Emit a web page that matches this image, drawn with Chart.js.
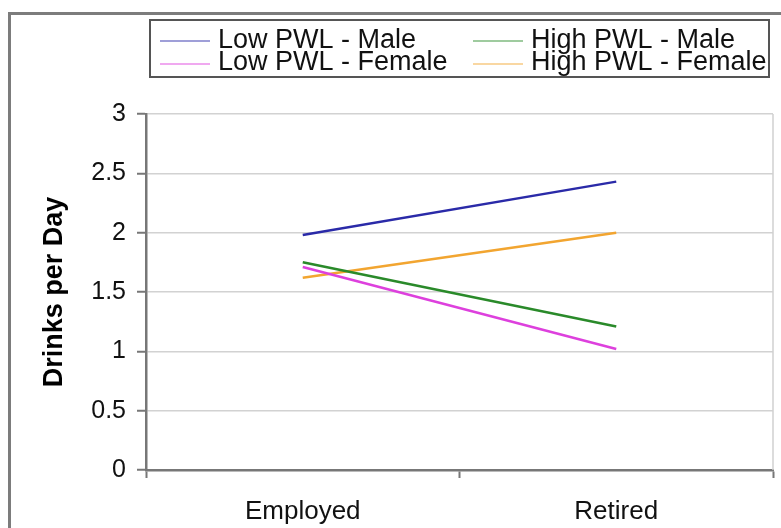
<!DOCTYPE html>
<html>
<head>
<meta charset="utf-8">
<title>Drinks per Day by Employment Status</title>
<script src="https://cdn.jsdelivr.net/npm/chart.js@4/dist/chart.umd.min.js"></script>
<style>
  html, body { margin: 0; padding: 0; background: #ffffff; }
  #wrap { position: relative; width: 781px; height: 528px; }
  canvas { display: block; }
</style>
</head>
<body>
<div id="wrap"><canvas id="chart" width="781" height="528"></canvas></div>
<script>
// Employment status groups on the x axis
const categories = ['Employed', 'Retired'];

// Mean drinks per day for each PWL / gender group
const lowPwlMale = [1.98, 2.43];
const highPwlMale = [1.75, 1.21];
const lowPwlFemale = [1.71, 1.02];
const highPwlFemale = [1.62, 2.00];

// Y axis tick values
const yTicks = [0, 0.5, 1, 1.5, 2, 2.5, 3];

const seriesLabels = ['Low PWL - Male', 'High PWL - Male', 'Low PWL - Female', 'High PWL - Female'];
const seriesColors = ['#2a2aa8', '#2a8a2a', '#dd40dd', '#f2a530'];
const seriesValues = [lowPwlMale, highPwlMale, lowPwlFemale, highPwlFemale];

const FONT = '"Liberation Sans", Arial, Helvetica, sans-serif';
const AXIS_GRAY = '#777777';

// Outer frame around the whole figure
const framePlugin = {
  id: 'frame',
  beforeDraw(chart) {
    const ctx = chart.ctx;
    ctx.save();
    ctx.fillStyle = '#ffffff';
    ctx.fillRect(0, 0, chart.width, chart.height);
    ctx.strokeStyle = '#7c7c7c';
    ctx.lineWidth = 3;
    ctx.beginPath();
    ctx.moveTo(9.5, chart.height + 2);
    ctx.lineTo(9.5, 13.5);
    ctx.lineTo(chart.width + 2, 13.5);
    ctx.stroke();
    ctx.restore();
  }
};

// Light border on the right edge of the plotting area
const plotEdgePlugin = {
  id: 'plotEdge',
  beforeDatasetsDraw(chart) {
    const {ctx, chartArea} = chart;
    ctx.save();
    ctx.strokeStyle = '#d0d0d0';
    ctx.lineWidth = 1.5;
    ctx.beginPath();
    ctx.moveTo(chartArea.right, chartArea.top);
    ctx.lineTo(chartArea.right, chartArea.bottom);
    ctx.stroke();
    ctx.restore();
  }
};

// Two-column boxed legend above the plot
const boxLegendPlugin = {
  id: 'boxLegend',
  afterDraw(chart, args, opts) {
    const ctx = chart.ctx;
    const b = opts.box;
    ctx.save();
    ctx.strokeStyle = '#555555';
    ctx.lineWidth = 2;
    ctx.strokeRect(b.x, b.y, b.w, b.h);
    ctx.font = opts.fontSize + 'px ' + FONT;
    ctx.textBaseline = 'alphabetic';
    ctx.textAlign = 'left';
    chart.data.datasets.forEach((ds, i) => {
      const col = i % 2;
      const row = Math.floor(i / 2);
      const lx = opts.colX[col];
      const ly = opts.lineY[row];
      ctx.globalAlpha = 0.6;
      ctx.strokeStyle = ds.borderColor;
      ctx.lineWidth = 1.5;
      ctx.beginPath();
      ctx.moveTo(lx, ly);
      ctx.lineTo(lx + opts.sampleLen, ly);
      ctx.stroke();
      ctx.globalAlpha = 1;
      ctx.fillStyle = '#111111';
      ctx.fillText(ds.label, lx + opts.sampleLen + opts.gap, opts.baseY[row]);
    });
    ctx.restore();
  }
};

const datasets = seriesLabels.map((label, i) => ({
  label: label,
  data: seriesValues[i],
  borderColor: seriesColors[i],
  backgroundColor: seriesColors[i],
  borderWidth: 2.5,
  pointRadius: 0,
  pointHoverRadius: 0,
  tension: 0,
  fill: false
}));

new Chart(document.getElementById('chart'), {
  type: 'line',
  data: { labels: categories, datasets: datasets },
  options: {
    responsive: false,
    animation: false,
    layout: { padding: { top: 114, right: 8, left: 0, bottom: 0 } },
    plugins: {
      legend: { display: false },
      tooltip: { enabled: false },
      boxLegend: {
        box: { x: 150, y: 20, w: 619, h: 57 },
        colX: [160, 473],
        sampleLen: 50,
        gap: 8,
        lineY: [41, 64],
        baseY: [48, 70],
        fontSize: 27
      }
    },
    scales: {
      x: {
        type: 'category',
        offset: true,
        grid: {
          offset: true,
          drawOnChartArea: false,
          drawTicks: true,
          tickLength: 8,
          tickColor: AXIS_GRAY,
          tickWidth: 2
        },
        border: { display: true, color: AXIS_GRAY, width: 2.5 },
        ticks: {
          font: { family: FONT, size: 26 },
          color: '#111111',
          padding: 18
        },
        afterFit(scale) { scale.height = 58; }
      },
      y: {
        min: 0,
        max: 3,
        afterBuildTicks(scale) { scale.ticks = yTicks.map(v => ({ value: v })); },
        ticks: {
          font: { family: FONT, size: 25 },
          color: '#111111',
          padding: 11,
          callback: (v) => String(v)
        },
        grid: {
          color: '#d2d2d2',
          lineWidth: 1.5,
          tickColor: AXIS_GRAY,
          tickLength: 9,
          tickWidth: 2
        },
        border: { display: true, color: AXIS_GRAY, width: 2.5 },
        title: {
          display: true,
          text: 'Drinks per Day',
          font: { family: FONT, size: 27, weight: 'bold' },
          color: '#000000',
          padding: { top: 38, bottom: 0 }
        },
        afterFit(scale) { scale.width = 146; }
      }
    }
  },
  plugins: [framePlugin, plotEdgePlugin, boxLegendPlugin]
});
</script>
</body>
</html>
